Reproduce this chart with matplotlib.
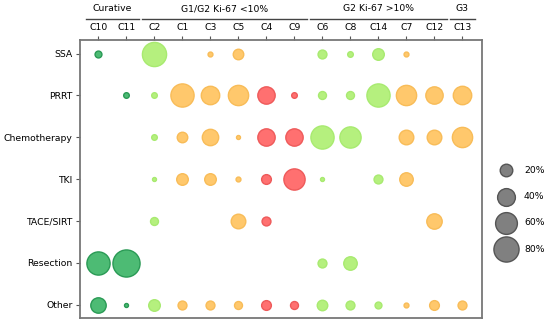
import numpy as np
import matplotlib
matplotlib.use("Agg")
import matplotlib.pyplot as plt
import matplotlib.transforms as mtransforms

columns = ["C10", "C11", "C2", "C1", "C3", "C5", "C4", "C9",
           "C6", "C8", "C14", "C7", "C12", "C13"]
treatments = ["SSA", "PRRT", "Chemotherapy", "TKI", "TACE/SIRT", "Resection", "Other"]

# colour class per column: cur = curative, lg = light green, or = orange, rd = red
col_class = ["cur", "cur", "lg", "or", "or", "or", "rd", "rd",
             "lg", "lg", "lg", "or", "or", "or"]

# percentage of patients per treatment (rows) and cohort (columns); 0 = none
pct = {
    "SSA":          [6, 0, 74, 0, 3, 14, 0, 0, 10, 4, 17, 3, 0, 0],
    "PRRT":         [0, 4, 4, 68, 43, 52, 38, 4, 8, 8, 68, 52, 38, 43],
    "Chemotherapy": [0, 0, 4, 14, 34, 2, 38, 38, 68, 57, 0, 27, 27, 52],
    "TKI":          [0, 0, 2, 17, 17, 3, 12, 57, 2, 0, 10, 23, 0, 0],
    "TACE/SIRT":    [0, 0, 8, 0, 0, 27, 10, 0, 0, 0, 0, 0, 30, 0],
    "Resection":    [68, 93, 0, 0, 0, 0, 0, 0, 10, 23, 0, 0, 0, 0],
    "Other":        [30, 2, 17, 10, 10, 8, 12, 8, 14, 10, 6, 3, 12, 10],
}

groups = [("Curative", 0, 1), ("G1/G2 Ki-67 <10%", 2, 7),
          ("G2 Ki-67 >10%", 8, 12), ("G3", 13, 13)]
legend_pct = [20, 40, 60, 80]

face = {"cur": "#4dbb74", "lg": "#b5f07e", "or": "#ffc86c", "rd": "#ff7070"}
edge = {"cur": "#2a9a55", "lg": "#a8ea70", "or": "#f8bc58", "rd": "#ee5a5a"}
SCALE = 4.1
FS = 6.7

fig = plt.figure(figsize=(5.5, 3.26), dpi=100)
ax = fig.add_axes([0.146, 0.025, 0.731, 0.853])

for r, t in enumerate(treatments):
    for c, v in enumerate(pct[t]):
        if v <= 0:
            continue
        k = col_class[c]
        ax.scatter(c, r, s=v * SCALE, color=face[k], edgecolors=edge[k],
                   linewidths=1.0, zorder=3)

ax.set_xlim(-0.65, 13.72)
ax.set_ylim(len(treatments) - 1 + 0.31, -0.33)
ax.xaxis.tick_top()
ax.set_xticks(range(len(columns)))
ax.set_xticklabels(columns)
ax.set_yticks(range(len(treatments)))
ax.set_yticklabels(treatments)
ax.tick_params(axis="both", labelsize=FS, length=3, width=0.8, color="#555555", pad=2.5)

for sp in ax.spines.values():
    sp.set_color("#777777")
    sp.set_linewidth(1.3)

# group headers above the column labels
trans = mtransforms.blended_transform_factory(ax.transData, ax.transAxes)
for name, a, b in groups:
    ax.plot([a - 0.45, b + 0.45], [1.075, 1.075], transform=trans,
            color="#444444", lw=1.0, clip_on=False)
    ax.text((a + b) / 2, 1.095, name, transform=trans, ha="center", va="bottom",
            fontsize=FS)

# size legend
handles = [ax.scatter([], [], s=p * SCALE, color="#808080", edgecolors="#555555",
                      linewidths=1.0) for p in legend_pct]
ax.legend(handles, [f"{p}%" for p in legend_pct], loc="upper left",
          bbox_to_anchor=(1.02, 0.57), frameon=False, fontsize=FS,
          labelspacing=1.85, handletextpad=0.9, borderpad=0.2)

fig.savefig("out.png", dpi=100)
